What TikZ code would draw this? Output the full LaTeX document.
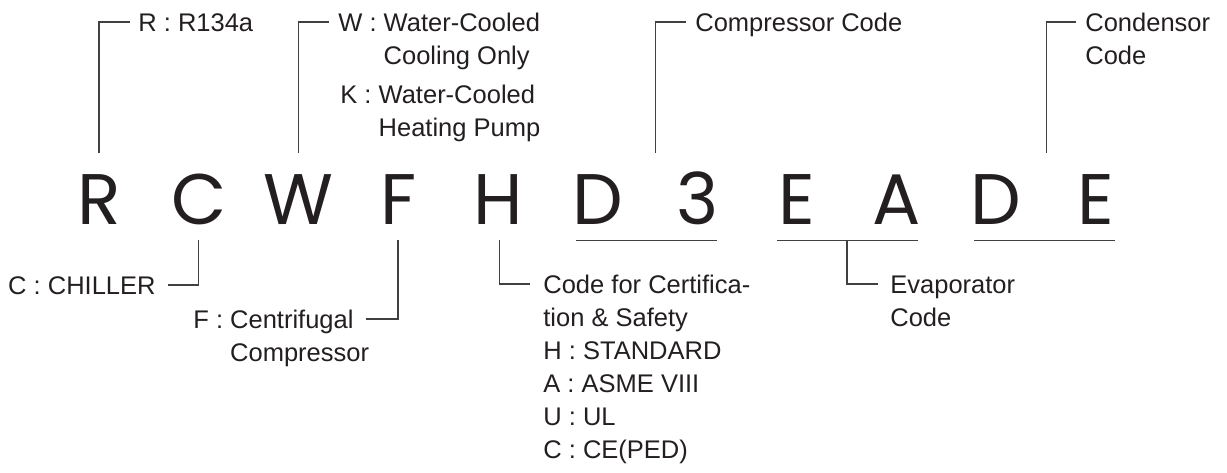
\documentclass[tikz,border=0pt]{standalone}
\usepackage{fontspec}
\setmainfont{Liberation Sans}
\newfontfamily\codefont{Poppins}
\usetikzlibrary{positioning,calc}
\definecolor{inkblack}{RGB}{35,31,32}
\definecolor{leadgray}{RGB}{64,64,64}

\begin{document}
\begin{tikzpicture}[
  x=0.5pt, y=-0.5pt,
  codechar/.style={font=\codefont\fontsize{35.8pt}{40pt}\selectfont, text=inkblack, inner sep=0pt, anchor=base, text height=25pt, text depth=0pt},
  lbl/.style={font=\fontsize{12.75pt}{16.5pt}\selectfont, text=inkblack, inner sep=0pt, anchor=base west},
  lead/.style={draw=leadgray, line width=0.65pt},
  uline/.style={draw=leadgray, line width=0.75pt}
]
\useasboundingbox (0,0) rectangle (1227,472);

% model code characters
\foreach \ch [count=\i] in {R,C,W,F,H,D,3,E,A,D,E}
  \node[codechar] (c\i) at ({99+99.7*(\i-1)},224) {\ch};

% call-outs above the code
\node[lbl] (lblR) at (138,31) {R : R134a};
\node[lbl] (lblW) at (338,31) {W : Water-Cooled};
\node[lbl] (lblWb) at ([shift={(0,33)}]lblW.base west) {\phantom{W : }Cooling Only};
\node[lbl] (lblK) at ([shift={(2,72)}]lblW.base west) {K : Water-Cooled};
\node[lbl] (lblKb) at ([shift={(0,33)}]lblK.base west) {\phantom{K : }Heating Pump};
\node[lbl] (lblComp) at (695,31) {Compressor Code};
\node[lbl] (lblCond) at (1085,31) {Condensor};
\node[lbl] (lblCondb) at ([shift={(0,33)}]lblCond.base west) {Code};

% call-outs below the code
\node[lbl, anchor=base east] (lblC) at (156,294) {C : CHILLER};
\node[lbl] (lblF) at (193,328) {F : Centrifugal};
\node[lbl] (lblFb) at ([shift={(0,33)}]lblF.base west) {\phantom{F : }Compressor};
\node[lbl] (lblH) at (543,293) {Code for Certifica-};
\foreach \txt [count=\k] in {tion \& Safety,H : STANDARD,A : ASME VIII,U : UL,C : CE(PED)}
  \node[lbl] (lblH\k) at ([shift={(0,33*\k)}]lblH.base west) {\txt};
\node[lbl] (lblEv) at (890,293) {Evaporator};
\node[lbl] (lblEvb) at ([shift={(0,33)}]lblEv.base west) {Code};

% leaders up
\draw[lead] ([shift={(0,-21)}]c1.north) |- ([shift={(-8,-9)}]lblR.base west);
\draw[lead] ([shift={(0,-21)}]c3.north) |- ([shift={(-9,-9)}]lblW.base west);
\draw[lead] ([shift={(58,-21)}]c6.north) |- ([shift={(-9,-9)}]lblComp.base west);
\draw[lead] ([shift={(50,-21)}]c10.north) |- ([shift={(-9,-9)}]lblCond.base west);

% group underlines
\draw[uline] ([shift={(-22,16)}]c6.south) -- ([shift={(20,16)}]c7.south);
\draw[uline] ([shift={(-20,16)}]c8.south) -- ([shift={(21,16)}]c9.south);
\draw[uline] ([shift={(-22,16)}]c10.south) -- ([shift={(19,16)}]c11.south);

% leaders down
\draw[lead] ([shift={(0,16)}]c2.south) |- ([shift={(12,-9)}]lblC.base east);
\draw[lead] ([shift={(0,16)}]c4.south) |- ([shift={(12,-9)}]lblF.base east);
\draw[lead] ([shift={(2,16)}]c5.south) |- ([shift={(-13,-9)}]lblH.base west);
\draw[lead] ([shift={(50,16)}]c8.south) |- ([shift={(-12,-9)}]lblEv.base west);
\end{tikzpicture}
\end{document}
